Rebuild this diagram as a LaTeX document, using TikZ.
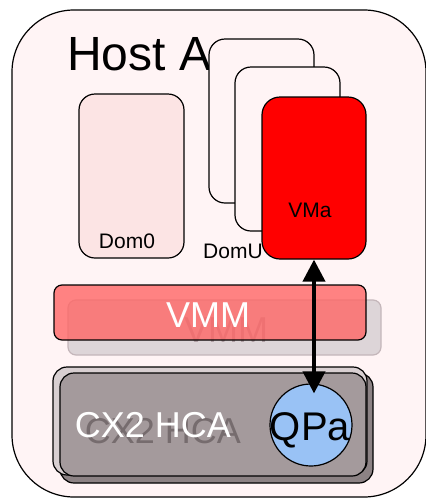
\documentclass[tikz,border=0pt]{standalone}
\usepackage{fontspec}
\setmainfont{Liberation Sans}
\usetikzlibrary{arrows.meta, positioning}
\definecolor{hostpink}{RGB}{255, 244, 245}
\definecolor{dompink}{RGB}{252, 228, 228}
\definecolor{vmared}{RGB}{255, 0, 0}
\definecolor{vmmred}{RGB}{255, 102, 102}
\definecolor{ghostgray}{RGB}{221, 213, 216}
\definecolor{ghostline}{RGB}{196, 182, 186}
\definecolor{ghosttext}{RGB}{176, 160, 165}
\definecolor{hcagray}{RGB}{164, 154, 156}
\definecolor{hcalight}{RGB}{216, 207, 209}
\definecolor{hcadark}{RGB}{140, 130, 132}
\definecolor{hcatext}{RGB}{118, 108, 110}
\definecolor{qpblue}{RGB}{153, 194, 245}
\newcommand{\fsz}[1]{\fontsize{#1}{#1}\selectfont}

\begin{document}
\begin{tikzpicture}[x=1pt, y=-1pt,
  box/.style={draw, line width=1.2pt, rounded corners=#1, inner sep=0pt},
  box/.default=16pt,
  lbl/.style={anchor=base, inner sep=0pt, font=\fsz{21}},
  biglbl/.style={anchor=base, inner sep=0pt, font=\fsz{36}}
]
  \useasboundingbox (0,0) rectangle (426,499);
  \node[box=62pt, fill=hostpink, minimum width=414pt, minimum height=487pt] (host) at (219,253.5) {};
  \node[anchor=base west, inner sep=0pt, font=\fsz{48}] (hostlbl) at (67,70) {Host A};

  \node[box, fill=dompink, minimum width=105pt, minimum height=164pt] (dom0) at (131.5,176) {};
  \node[lbl] (dom0lbl) at (127,248) {Dom0};

  \node[box, fill=hostpink, minimum width=105pt, minimum height=164pt] (domu1) at (261.5,121) {};
  \node[box, fill=hostpink, minimum width=105pt, minimum height=164pt] (domu2) at (287.5,149) {};
  \node[lbl] (domulbl) at (233,258) {DomU};
  \node[box=18pt, fill=vmared, minimum width=104pt, minimum height=162pt] (vma) at (314,178) {};
  \node[lbl] (vmalbl) at (310,217) {VMa};

  \node[box=8pt, draw=ghostline, fill=ghostgray, minimum width=313pt, minimum height=55pt] (vmmghost) at (224.5,327.5) {};
  \node[biglbl, text=ghosttext] (vmmghostlbl) at (226,342) {VMM};
  \node[box=8pt, fill=vmmred, fill opacity=0.8, minimum width=312pt, minimum height=55pt] (vmm) at (210,312.5) {};
  \node[biglbl, text=white] (vmmlbl) at (208,327) {VMM};

  \node[box=14pt, fill=hcadark, minimum width=313pt, minimum height=110pt] (hcaghost) at (216.5,428) {};
  \node[box=14pt, fill=hcalight, minimum width=314pt, minimum height=108pt] (hca) at (210,421) {};
  \node[box=14pt, fill=hcagray, minimum width=306pt, minimum height=103pt] (hcainner) at (213,424.5) {};
  \node[biglbl, text=hcatext] (hcaghostlbl) at (163,443) {CX2 HCA};
  \node[biglbl, text=white] (hcalbl) at (153,437) {CX2 HCA};

  \node[circle, draw, line width=1.2pt, fill=qpblue, minimum size=82pt, inner sep=0pt] (qpa) at (311,425) {};
  \node[anchor=base, inner sep=0pt, font=\fsz{40}] (qpalbl) at (310,440) {QPa};

  \coordinate (qpatip) at ([yshift=-10pt]qpa.north -| vma.south);
  \draw[line width=4pt, {Triangle[length=22pt,width=22pt]}-{Triangle[length=22pt,width=22pt]}] (vma.south) -- (qpatip);
\end{tikzpicture}
\end{document}
